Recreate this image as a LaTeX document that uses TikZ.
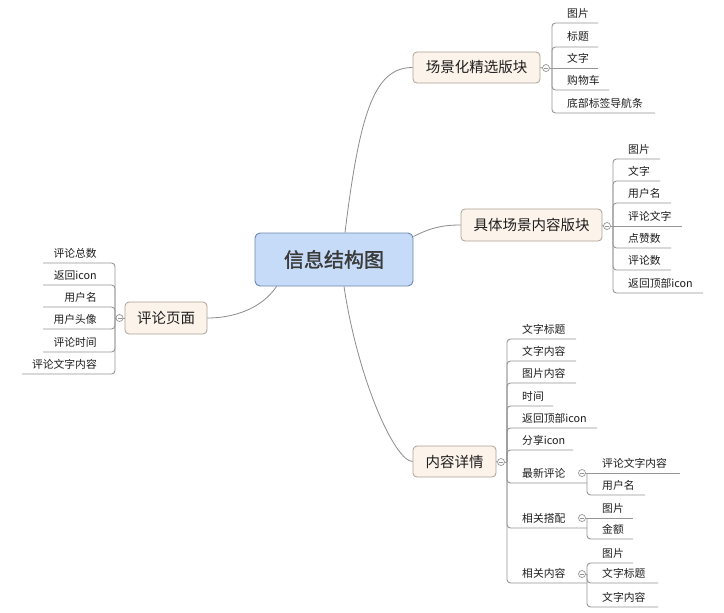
\documentclass[tikz,border=0pt]{standalone}
\usepackage{fontspec}
\setmainfont{Noto Sans CJK SC}
\newfontfamily\cjkb[FakeBold=1.5]{Noto Sans CJK SC}
\usetikzlibrary{calc}
\definecolor{cfill}{RGB}{198,219,247}
\definecolor{cdraw}{RGB}{108,134,178}
\definecolor{bfill}{RGB}{252,243,235}
\definecolor{bdraw}{RGB}{170,160,150}
\definecolor{connc}{RGB}{140,140,140}
\definecolor{ulc}{RGB}{150,150,150}
\definecolor{roottext}{RGB}{58,58,58}
\definecolor{txt}{RGB}{30,30,30}
\tikzset{
 root/.style={draw=cdraw, fill=cfill, rounded corners=5pt, line width=0.9pt, minimum width=158pt, minimum height=53pt, font=\cjkb\fontsize{20}{24}\selectfont, text=roottext, inner sep=0},
 branch/.style={draw=bdraw, fill=bfill, rounded corners=4pt, line width=0.8pt, minimum height=31pt, font=\fontsize{14.5}{17}\selectfont, text=txt, inner sep=0},
 leaf/.style={inner sep=0, font=\fontsize{10.8}{12}\selectfont, text=txt},
 conn/.style={draw=connc, line width=0.8pt},
 ul/.style={draw=ulc, line width=0.9pt, rounded corners=3.5pt},
 togc/.style={circle, draw=ulc, fill=white, line width=0.7pt, minimum size=7pt, inner sep=0},
}
% circle toggle: name, x, y
\newcommand\togg[3]{\node[togc] (#1) at (#2,#3) {};
  \draw[ulc, line width=0.6pt] ([xshift=-2pt]#1.center) -- ([xshift=2pt]#1.center);}
% right leaf: name, junction, xv, y, text, endx
\newcommand\leafR[6]{\node[leaf,anchor=base west] (#1) at (#3+15,#4-6) {#5};
  \coordinate (#1e) at (#6,#4);
  \draw[ul] (#2) |- (#1e);}
\newcommand\leafRs[6]{\node[leaf,anchor=base west] (#1) at (#3+15,#4-6) {#5};
  \coordinate (#1e) at (#6,#4);
  \draw[ul] (#2) -- (#1e);}
\newcommand\leafL[6]{\node[leaf,anchor=base east] (#1) at (#3-18,#4-6) {#5};
  \coordinate (#1e) at (#6,#4);
  \draw[ul] (#2) |- (#1e);}
\begin{document}
\begin{tikzpicture}[x=1pt,y=-1pt]
\useasboundingbox[fill=white] (0,0) rectangle (724,613);

% main nodes
\node[root] (c) at (334,259.5) {信息结构图};
\node[branch, minimum width=127pt] (b1) at (476.5,67.5) {场景化精选版块};
\node[branch, minimum width=141pt, minimum height=32pt] (b2) at (531.5,225) {具体场景内容版块};
\node[branch, minimum width=82pt, minimum height=32pt] (b3) at (166,318) {评论页面};
\node[branch, minimum width=83pt] (b4) at (454.5,461.5) {内容详情};

% main connectors
\draw[conn] ([xshift=11pt]c.north) .. controls (360,110) and (375,67.5) .. (b1.west);
\draw[conn] ([yshift=-4pt]c.north east) .. controls (430,228) and (442,225) .. (b2.west);
\draw[conn] ([xshift=22pt]c.south west) .. controls (262,308) and (235,318) .. (b3.east);
\draw[conn] ([xshift=10pt]c.south) .. controls (358,380) and (395,461.5) .. (b4.west);

% branch A
\togg{cA}{546}{68}
\coordinate (jA) at (552,68);
\draw[ul] (b1.east) -- (cA.west);
\draw[ul] (cA.east) -- (jA);
\leafR{a1}{jA}{552}{23}{图片}{598}
\leafR{a2}{jA}{552}{47}{标题}{598}
\leafRs{a3}{jA}{552}{68}{文字}{598}
\leafR{a4}{jA}{552}{90}{购物车}{609}
\leafR{a5}{jA}{552}{113}{底部标签导航条}{655}

% branch B
\togg{cB}{607}{226}
\coordinate (jB) at (613,226);
\draw[ul] (b2.east) -- (cB.west);
\draw[ul] (cB.east) -- (jB);
\leafR{bb1}{jB}{613}{159}{图片}{660}
\leafR{bb2}{jB}{613}{181}{文字}{660}
\leafR{bb3}{jB}{613}{203}{用户名}{671}
\leafRs{bb4}{jB}{613}{226}{评论文字}{682}
\leafR{bb5}{jB}{613}{248}{点赞数}{671}
\leafR{bb6}{jB}{613}{270}{评论数}{671}
\leafR{bb7}{jB}{613}{293}{返回顶部icon}{703}

% branch C (left)
\togg{cC}{119.5}{318}
\coordinate (jC) at (115,318);
\draw[ul] (b3.west) -- (cC.east);
\draw[ul] (cC.west) -- (jC);
\leafL{cc1}{jC}{115}{263}{评论总数}{43}
\leafL{cc2}{jC}{115}{285}{返回icon}{43}
\leafL{cc3}{jC}{115}{307}{用户名}{43}
\leafL{cc4}{jC}{115}{329}{用户头像}{43}
\leafL{cc5}{jC}{115}{352}{评论时间}{43}
\leafL{cc6}{jC}{115}{374}{评论文字内容}{22}

% branch D
\togg{cD}{501}{462}
\coordinate (jD) at (507,462);
\draw[ul] (b4.east) -- (cD.west);
\draw[ul] (cD.east) -- (jD);
\leafR{d1}{jD}{507}{339}{文字标题}{576}
\leafR{d2}{jD}{507}{361}{文字内容}{576}
\leafR{d3}{jD}{507}{383}{图片内容}{576}
\leafR{d4}{jD}{507}{406}{时间}{553}
\leafR{d5}{jD}{507}{428}{返回顶部icon}{597}
\leafR{d6}{jD}{507}{450}{分享icon}{573}
\leafR{d7}{jD}{507}{483}{最新评论}{587}
\leafR{d8}{jD}{507}{528}{相关搭配}{587}
\leafR{d9}{jD}{507}{583}{相关内容}{587}

% sub E
\togg{cE}{582}{473}
\coordinate (jE) at (587,473);
\draw[ul] (cE.east) -- (jE);
\leafRs{e1}{jE}{587}{473}{评论文字内容}{680}
\leafR{e2}{jE}{587}{495}{用户名}{645}

% sub F
\togg{cF}{582}{518}
\coordinate (jF) at (587,518);
\draw[ul] (cF.east) -- (jF);
\leafRs{f1}{jF}{587}{518}{图片}{633}
\leafR{f2}{jF}{587}{539}{金额}{633}

% sub G
\togg{cG}{582}{574}
\coordinate (jG) at (587,574);
\draw[ul] (cG.east) -- (jG);
\leafR{g1}{jG}{587}{563}{图片}{633}
\leafR{g2}{jG}{587}{583}{文字标题}{658}
\leafR{g3}{jG}{587}{607}{文字内容}{658}
\end{tikzpicture}
\end{document}
